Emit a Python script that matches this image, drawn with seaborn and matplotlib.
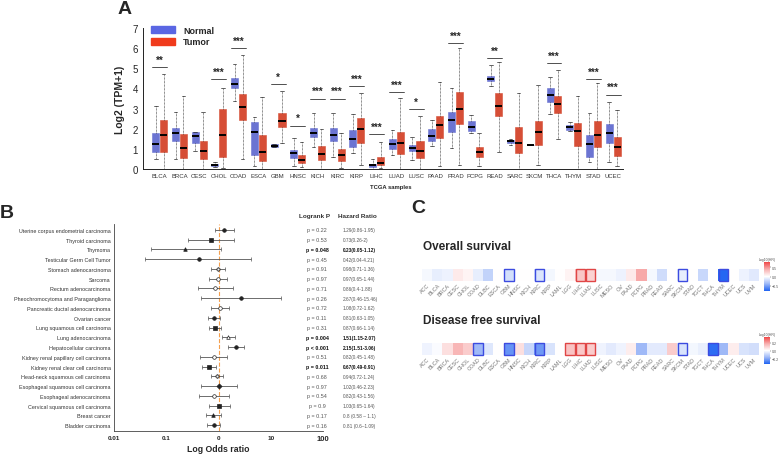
import numpy as np
import pandas as pd
import matplotlib
matplotlib.use('Agg')
import matplotlib.pyplot as plt
import seaborn as sns
from matplotlib.patches import Patch, Rectangle
from matplotlib.colors import LinearSegmentedColormap
from matplotlib.transforms import blended_transform_factory
from matplotlib.ticker import NullLocator

# ---------------- data ----------------
# Panel A: expression boxplots (whisker low, Q1, median, Q3, whisker high)
tcga = ['BLCA', 'BRCA', 'CESC', 'CHOL', 'COAD', 'ESCA', 'GBM', 'HNSC', 'KICH', 'KIRC',
        'KIRP', 'LIHC', 'LUAD', 'LUSC', 'PAAD', 'PRAD', 'PCPG', 'READ', 'SARC', 'SKCM',
        'THCA', 'THYM', 'STAD', 'UCEC']
normal_stats = [
    [0.5, 0.85, 1.25, 1.8, 3.15], [0.5, 1.4, 1.78, 2.05, 2.85], [0.88, 1.3, 1.65, 1.85, 1.85],
    [0.1, 0.15, 0.2, 0.27, 0.35], [3.4, 4.02, 4.2, 4.5, 5.2], [0.15, 0.7, 1.85, 2.35, 2.6],
    [1.1, 1.1, 1.15, 1.25, 1.25], [0.15, 0.55, 0.8, 0.95, 1.55], [1.1, 1.6, 1.78, 2.05, 2.8],
    [0.6, 1.38, 1.7, 2.05, 2.8], [0.8, 1.1, 1.5, 1.92, 2.72], [0.0, 0.12, 0.18, 0.25, 0.48],
    [0.7, 1.0, 1.24, 1.49, 1.94], [0.46, 0.91, 1.04, 1.2, 1.6], [1.16, 1.41, 1.66, 1.97, 2.43],
    [1.06, 1.82, 2.45, 2.85, 4.0], [1.79, 1.9, 2.07, 2.37, 2.7], [4.1, 4.37, 4.47, 4.64, 5.15],
    [1.21, 1.31, 1.37, 1.42, 1.49], [1.19, 1.19, 1.19, 1.19, 1.19], [2.73, 3.34, 3.69, 4.0, 4.59],
    [1.89, 1.92, 2.1, 2.2, 2.35], [0.33, 0.61, 1.24, 1.7, 2.76], [0.36, 1.29, 1.77, 2.24, 3.34],
]
tumor_stats = [
    [0.0, 0.85, 1.68, 2.42, 4.7], [0.0, 0.55, 1.05, 1.72, 3.62], [0.0, 0.48, 0.88, 1.4, 2.85],
    [0.05, 0.6, 1.68, 2.98, 4.02], [0.5, 2.42, 3.1, 3.72, 5.65], [0.0, 0.4, 0.85, 1.68, 3.58],
    [1.3, 2.1, 2.4, 2.8, 3.85], [0.1, 0.3, 0.45, 0.68, 1.35], [0.0, 0.45, 0.72, 1.15, 2.0],
    [0.05, 0.42, 0.68, 0.98, 1.78], [0.2, 1.3, 2.0, 2.52, 3.78], [0.05, 0.18, 0.3, 0.6, 1.35],
    [0.0, 0.75, 1.29, 1.85, 3.53], [0.0, 0.53, 0.88, 1.37, 2.62], [0.13, 1.52, 2.19, 2.62, 4.3],
    [0.21, 2.25, 2.98, 3.81, 6.0], [0.13, 0.6, 0.84, 1.11, 1.77], [0.83, 2.62, 3.11, 3.76, 5.3],
    [0.0, 0.78, 1.31, 2.1, 3.77], [0.2, 1.19, 1.85, 2.37, 4.19], [1.49, 2.78, 3.23, 3.64, 4.92],
    [0.0, 1.16, 1.87, 2.27, 3.64], [0.0, 1.08, 1.69, 2.37, 4.25], [0.17, 0.63, 1.09, 1.59, 2.93],
]
sig_marks = ['**', '', '', '***', '***', '', '*', '*', '***', '***', '***', '***',
             '***', '*', '', '***', '', '**', '', '', '***', '', '***', '***']
sig_y = [5.05, 0, 0, 4.45, 6.0, 0, 4.2, 2.15, 3.5, 3.5, 4.1, 1.72,
         3.81, 2.98, 0, 6.24, 0, 5.5, 0, 0, 5.25, 0, 4.47, 3.69]

# Panel B: forest plot
forest_rows = ['Uterine corpus endometrial carcinoma', 'Thyroid carcinoma', 'Thymoma',
               'Testicular Germ Cell Tumor', 'Stomach adenocarcinoma', 'Sarcoma',
               'Rectum adenocarcinoma', 'Pheochromocytoma and Paraganglioma',
               'Pancreatic ductal adenocarcinoma', 'Ovarian cancer',
               'Lung squamous cell carcinoma', 'Lung adenocarcinoma', 'Hepatocellular carcinoma',
               'Kidney renal papillary cell carcinoma', 'Kidney renal clear cell carcinoma',
               'Head-neck squamous cell carcinoma', 'Esophageal squamous cell carcinoma',
               'Esophageal adenocarcinoma', 'Cervical squamous cell carcinoma',
               'Breast cancer', 'Bladder carcinoma']
hr = [1.29, 0.73, 0.23, 0.42, 0.98, 0.97, 0.86, 2.67, 1.08, 0.81, 0.87, 1.51, 2.15,
      0.82, 0.67, 0.94, 1.02, 0.82, 1.03, 0.8, 0.81]
hr_lo = [0.86, 0.26, 0.05, 0.04, 0.71, 0.65, 0.4, 0.46, 0.72, 0.63, 0.66, 1.15, 1.51,
         0.45, 0.49, 0.72, 0.46, 0.43, 0.65, 0.58, 0.6]
hr_hi = [1.95, 2.0, 1.12, 4.21, 1.36, 1.44, 1.88, 15.46, 1.62, 1.05, 1.14, 2.07, 3.06,
         1.48, 0.91, 1.24, 2.23, 1.56, 1.64, 1.1, 1.09]
p_text = ['p = 0.22', 'p = 0.53', 'p = 0.048', 'p = 0.45', 'p = 0.91', 'p = 0.97', 'p = 0.71',
          'p = 0.26', 'p = 0.72', 'p = 0.11', 'p = 0.31', 'p = 0.004', 'p < 0.001', 'p = 0.51',
          'p = 0.011', 'p = 0.68', 'p = 0.97', 'p = 0.54', 'p = 0.9', 'p = 0.17', 'p = 0.16']
hr_text = ['1.29(0.86-1.95)', '0.73(0.26-2)', '0.23(0.05-1.12)', '0.42(0.04-4.21)',
           '0.98(0.71-1.36)', '0.97(0.65-1.44)', '0.86(0.4-1.88)', '2.67(0.46-15.46)',
           '1.08(0.72-1.62)', '0.81(0.63-1.05)', '0.87(0.66-1.14)', '1.51(1.15-2.07)',
           '2.15(1.51-3.06)', '0.82(0.45-1.48)', '0.67(0.49-0.91)', '0.94(0.72-1.24)',
           '1.02(0.46-2.23)', '0.82(0.43-1.56)', '1.03(0.65-1.64)', '0.8 (0.58 – 1.1)',
           '0.81 (0.6–1.09)']
bold_rows = [2, 11, 12, 14]
row_markers = ['o', 's', '^', 'o', 'P', 'o', 'o', 'o', 'o', 'o', 's', '^', 'o', 'o', 's',
               'P', 'D', 'o', 's', '^', 'o']
row_filled = [1, 1, 1, 1, 0, 0, 0, 1, 0, 1, 1, 0, 1, 0, 1, 0, 1, 0, 1, 1, 1]

# Panel C: survival maps (log10 HR)
surv_types = ['ACC', 'BLCA', 'BRCA', 'CESC', 'CHOL', 'COAD', 'DLBC', 'ESCA', 'GBM', 'HNSC',
              'KICH', 'KIRC', 'KIRP', 'LAML', 'LGG', 'LIHC', 'LUAD', 'LUSC', 'MESO', 'OV',
              'PAAD', 'PCPG', 'PRAD', 'READ', 'SARC', 'SKCM', 'STAD', 'TGCT', 'THCA', 'THYM',
              'UCEC', 'UCS', 'UVM']
os_hr = [-0.04, -0.1, -0.07, 0.1, 0.05, -0.1, -0.25, 0.0, -0.18, 0.0, 0.0, -0.15, -0.05,
         0.0, 0.06, 0.28, 0.22, -0.04, -0.04, -0.07, 0.1, 0.42, -0.04, -0.2, 0.0, -0.1,
         0.0, -0.22, 0.0, -0.78, 0.0, -0.07, -0.12]
os_sig = ['GBM', 'KIRC', 'LIHC', 'LUAD', 'SKCM', 'THYM']
dfs_hr = [-0.03, -0.01, 0.07, 0.16, 0.11, -0.17, -0.06, 0.0, -0.25, 0.07, -0.1, -0.24,
          -0.07, 0.0, 0.13, 0.12, 0.11, -0.03, -0.05, -0.03, 0.04, -0.17, -0.05, -0.05,
          0.11, -0.07, -0.02, -0.04, -0.33, -0.17, 0.04, -0.07, -0.08]
dfs_sig = ['COAD', 'GBM', 'KIRC', 'LGG', 'LIHC', 'LUAD', 'SKCM', 'THCA']

# ---------------- figure ----------------
sns.set_style('white')
plt.rcParams['font.family'] = ['Liberation Sans', 'DejaVu Sans']

W, H = 779, 456


def px_rect(x0, y0, x1, y1):
    return [x0 / W, 1 - y1 / H, (x1 - x0) / W, (y1 - y0) / H]


fig = plt.figure(figsize=(W / 100, H / 100), dpi=100)

# ---- Panel A ----
recs = []
for cat, ns, ts in zip(tcga, normal_stats, tumor_stats):
    for v in ns:
        recs.append((cat, 'Normal', v))
    for v in ts:
        recs.append((cat, 'Tumor', v))
df_box = pd.DataFrame(recs, columns=['cancer', 'group', 'value'])

axA = fig.add_axes(px_rect(143, 29, 623, 170))
sns.boxplot(data=df_box, x='cancer', y='value', hue='group', order=tcga,
            hue_order=['Normal', 'Tumor'],
            palette={'Normal': '#5A66E3', 'Tumor': '#F03B1C'},
            whis=(0, 100), width=0.8, gap=0.1, linecolor='k', showfliers=False,
            medianprops=dict(color='k', linewidth=1.4),
            whiskerprops=dict(color='#222222', linewidth=0.5, linestyle=(0, (1, 1))),
            capprops=dict(color='#222222', linewidth=0.5),
            legend=False, ax=axA)
for p in axA.patches:
    p.set_edgecolor(p.get_facecolor())
    p.set_linewidth(0.4)

for i, (m, y) in enumerate(zip(sig_marks, sig_y)):
    if m:
        axA.plot([i - 0.38, i + 0.38], [y, y], color='#333333', lw=0.6)
        axA.text(i, y + 0.12, m, ha='center', va='bottom', fontsize=7, fontweight='bold')

axA.set_xlim(-0.85, 23.5)
axA.set_ylim(0, 7)
axA.set_yticks(range(8))
axA.tick_params(axis='y', labelsize=7, length=2, width=0.6, pad=1.5)
axA.tick_params(axis='x', labelsize=4.3, length=0, pad=3, labelcolor='#333333')
axA.set_xlabel('')
axA.set_ylabel('Log2 (TPM+1)', fontsize=7.5, fontweight='bold')
axA.yaxis.set_label_coords(-0.038, 0.5)
for s in ['top', 'right']:
    axA.spines[s].set_visible(False)
for s in ['left', 'bottom']:
    axA.spines[s].set_linewidth(0.7)
    axA.spines[s].set_color('#222222')
axA.legend(handles=[Patch(color='#5A66E3', label='Normal'), Patch(color='#F03B1C', label='Tumor')],
           loc='upper left', bbox_to_anchor=(0.01, 1.04), frameon=False,
           prop={'weight': 'bold', 'size': 6.5}, handlelength=2.6, handleheight=0.8,
           labelspacing=0.25, handletextpad=0.9, borderaxespad=0)
fig.text(391 / W, 1 - 187 / H, 'TCGA samples', ha='center', va='center',
         fontsize=4.2, fontweight='bold')

# ---- Panel B ----
axB = fig.add_axes(px_rect(114, 225, 323, 432))
axB.axvline(1, color='#F5A04E', ls='--', lw=0.8, zorder=1)
for i in range(len(forest_rows)):
    face = '#222222' if row_filled[i] else 'white'
    axB.errorbar(hr[i], i, xerr=[[hr[i] - hr_lo[i]], [hr_hi[i] - hr[i]]],
                 fmt=row_markers[i], color='#222222', mfc=face, mec='#222222', mew=0.5,
                 ms=2.6, ecolor='#555555', elinewidth=0.6, capsize=1.3, capthick=0.5, zorder=3)
axB.set_xscale('log')
axB.set_xlim(0.01, 100)
axB.set_ylim(20.6, -0.6)
axB.set_xticks([0.01, 0.1, 1, 10, 100])
axB.set_xticklabels(['0.01', '0.1', '0', '10', '100'])
axB.xaxis.set_minor_locator(NullLocator())
axB.set_yticks(range(len(forest_rows)))
axB.set_yticklabels(forest_rows)
axB.tick_params(axis='y', labelsize=3.9, length=1.5, width=0.4, pad=1, labelcolor='#333333')
axB.tick_params(axis='x', labelsize=4.6, length=0, pad=3)
for lab in axB.get_xticklabels():
    lab.set_fontweight('bold')
axB.get_xticklabels()[-1].set_fontsize(5.5)
axB.set_xlabel('Log Odds ratio', fontsize=6.3, fontweight='bold', labelpad=1)
for s in ['top', 'right']:
    axB.spines[s].set_visible(False)
for s in ['left', 'bottom']:
    axB.spines[s].set_linewidth(0.6)
    axB.spines[s].set_color('#444444')

trB = blended_transform_factory(fig.transFigure, axB.transData)
for i in range(len(forest_rows)):
    w = 'bold' if i in bold_rows else 'normal'
    c = '#111111' if i in bold_rows else '#555555'
    axB.text(317 / W, i, p_text[i], transform=trB, ha='center', va='center',
             fontsize=3.9, fontweight=w, color=c)
    axB.text(343 / W, i, hr_text[i], transform=trB, ha='left', va='center',
             fontsize=3.4, fontweight=w, color=c)
fig.text(315 / W, 1 - 217 / H, 'Logrank P', ha='center', va='center', fontsize=4.6,
         fontweight='bold', color='#333333')
fig.text(338 / W, 1 - 217 / H, 'Hazard Ratio', ha='left', va='center', fontsize=4.6,
         fontweight='bold', color='#333333')

# ---- Panel C ----
cmap = LinearSegmentedColormap.from_list('surv', ['#1F63F2', '#9DB8F7', '#FFFFFF', '#F7AFAF', '#F04848'])


def survival_strip(top, values, sig, vlim, ticks, title, cbar_box):
    ax = fig.add_axes(px_rect(422, top, 759, top + 12))
    cax = fig.add_axes(px_rect(*cbar_box))
    sns.heatmap(pd.DataFrame([values], columns=surv_types), ax=ax, cmap=cmap,
                vmin=-vlim, vmax=vlim, cbar_ax=cax, xticklabels=surv_types, yticklabels=False,
                cbar_kws={'ticks': ticks})
    ax.tick_params(axis='x', length=0, pad=1, labelsize=4.0, labelcolor='#777777')
    for lab in ax.get_xticklabels():
        lab.set_rotation(45)
        lab.set_ha('right')
        lab.set_rotation_mode('anchor')
    for name in sig:
        j = surv_types.index(name)
        ec = '#3C4BE0' if values[j] < 0 else '#E04545'
        ax.add_patch(Rectangle((j + 0.04, 0.0), 0.92, 1.0, fill=False, edgecolor=ec,
                               lw=1.0, clip_on=False))
    cax.tick_params(labelsize=2.6, length=1, width=0.3, pad=0.5, labelcolor='#555555')
    cax.set_title('Log10(HR)', fontsize=2.5, color='#555555', pad=1.5)
    for s in cax.spines.values():
        s.set_visible(False)
    fig.text(423 / W, 1 - (top - 23) / H, title, ha='left', va='center',
             fontsize=8.5, fontweight='bold')


survival_strip(270, os_hr, os_sig, 0.8, [0.5, 0.0, -0.5], 'Overall survival', (764, 263, 770, 292))
survival_strip(344, dfs_hr, dfs_sig, 0.35, [0.2, 0.0, -0.2], 'Disease free survival',
               (764, 338, 770, 365))

# panel letters
fig.text(125 / W, 1 - 9 / H, 'A', ha='center', va='center', fontsize=14, fontweight='bold')
fig.text(7 / W, 1 - 214 / H, 'B', ha='center', va='center', fontsize=14, fontweight='bold')
fig.text(418 / W, 1 - 209 / H, 'C', ha='center', va='center', fontsize=14, fontweight='bold')

fig.savefig('out.png', dpi=100)
